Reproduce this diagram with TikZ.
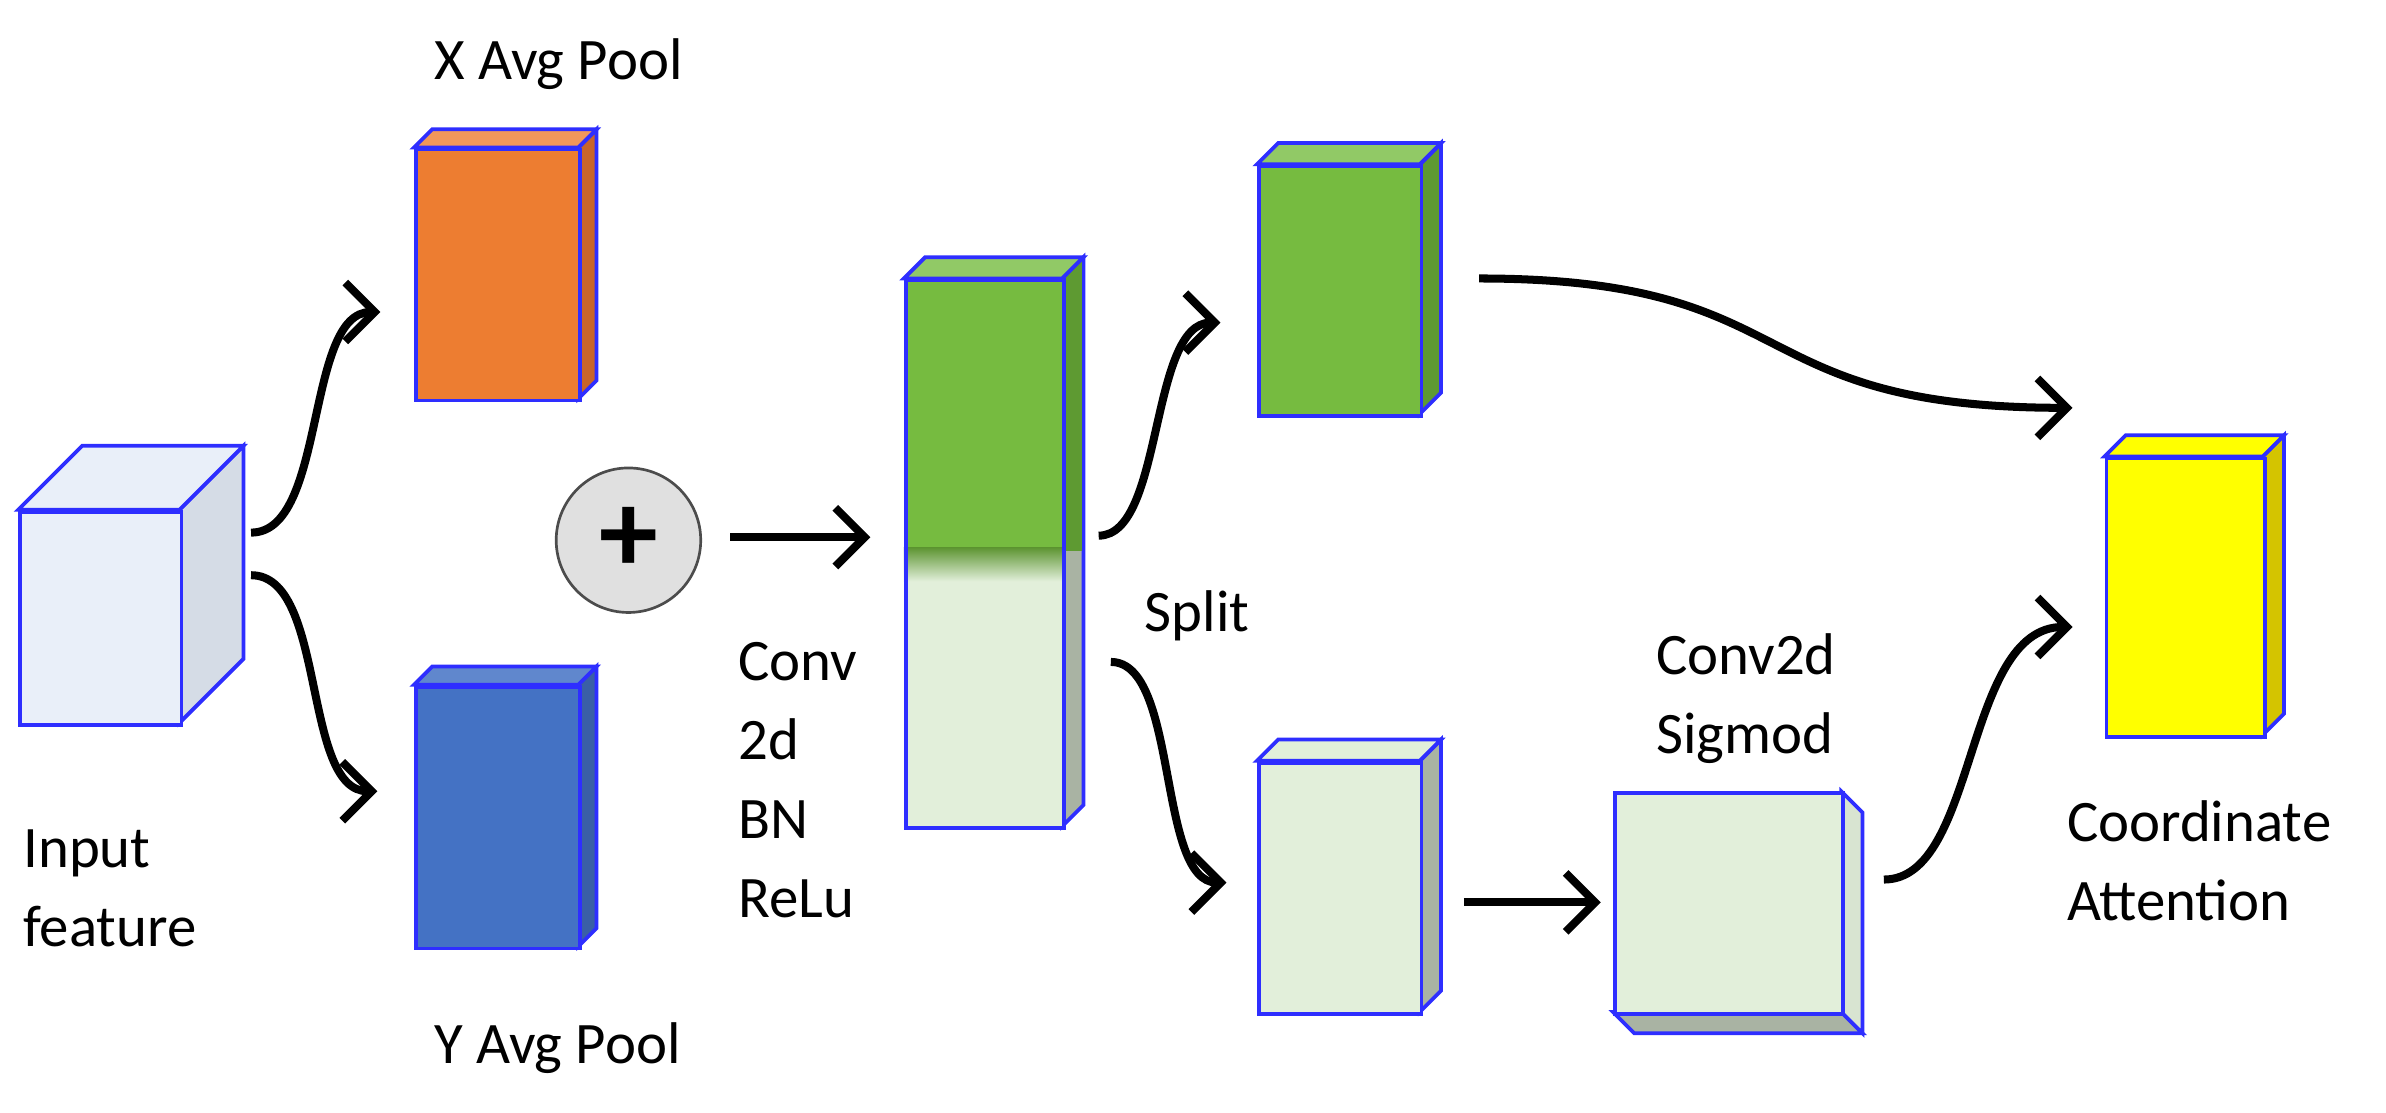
\documentclass[tikz,border=0pt]{standalone}
\usepackage{fontspec}
\setmainfont{Carlito}
\usetikzlibrary{arrows.meta}
\definecolor{edge}{HTML}{2E2EFF}
\definecolor{inF}{HTML}{E9EFF9}
\definecolor{inS}{HTML}{D5DCE6}
\definecolor{orF}{HTML}{ED7D31}
\definecolor{orS}{HTML}{C8652A}
\definecolor{blF}{HTML}{4472C4}
\definecolor{blS}{HTML}{3A5FA6}
\definecolor{grF}{HTML}{76BB40}
\definecolor{grS}{HTML}{5E9A32}
\definecolor{lgF}{HTML}{E2EFDA}
\definecolor{lgS}{HTML}{A9B3A3}
\definecolor{yeF}{HTML}{FFFF00}
\definecolor{yeS}{HTML}{D4C400}
\newcommand\mybox[9]{%
 \fill[#9,draw=edge,line width=1.4pt] (#4,#3)--(#4+#6,#3-#6)--(#4+#6,#5-#6)--(#4,#5)--cycle;
 \fill[#8,draw=edge,line width=1.4pt] (#2,#3)--(#2+#6,#3-#6)--(#4+#6,#3-#6)--(#4,#3)--cycle;
 \node[draw=edge,line width=1.4pt,fill=#7,minimum width={(#4-#2)*0.02cm},minimum height={(#5-#3)*0.02cm},inner sep=0pt,anchor=north west] (#1) at (#2,#3) {};}
\tikzset{arr/.style={line width=3pt,-{Straight Barb[length=11pt,width=22pt,line width=3pt]}},
 lbl/.style={align=left,anchor=north west,inner sep=0pt,font=\fontsize{22}{29.5}\selectfont}}
\begin{document}
\begin{tikzpicture}[x=0.02cm,y=-0.02cm]
\useasboundingbox (0,0) rectangle (1568,731);
\mybox{in}{12}{335}{118}{475}{42}{inF}{inF}{inS}
\mybox{xp}{272}{97}{380}{262}{12}{orF}{orF!80!white}{orS}
\mybox{yp}{272}{450}{380}{622}{12}{blF}{blF!85!white}{blS}
% tall bar
\fill[lgS,draw=edge,line width=1.4pt] (698,183)--(712,169)--(712,529)--(698,543)--cycle;
\fill[grS] (699,184)--(711,171)--(711,362)--(699,362)--cycle;
\fill[grF!80!white,draw=edge,line width=1.4pt] (594,183)--(608,169)--(712,169)--(698,183)--cycle;
\fill[lgF] (594,183) rectangle (698,543);
\fill[grF] (594,183) rectangle (698,360);
\shade[top color=grF!80!black,bottom color=lgF] (594,360) rectangle (698,382);
\node[draw=edge,line width=1.4pt,minimum width=2.08cm,minimum height=7.2cm,inner sep=0pt,anchor=north west] (bar) at (594,183) {};
\mybox{gt}{826}{108}{933}{272}{14}{grF}{grF!80!white}{grS}
\mybox{lb}{826}{500}{933}{665}{14}{lgF}{lgF}{lgS}
% small box (side and bottom visible)
\fill[lgS,draw=edge,line width=1.4pt] (1060,665)--(1074,679)--(1224,679)--(1210,665)--cycle;
\fill[lgF!90!gray,draw=edge,line width=1.4pt] (1210,520)--(1224,534)--(1224,679)--(1210,665)--cycle;
\node[draw=edge,line width=1.4pt,fill=lgF,minimum width=3cm,minimum height=2.9cm,inner sep=0pt,anchor=north west] (sb) at (1060,520) {};
\mybox{ca}{1383}{300}{1487}{483}{14}{yeF}{yeF}{yeS}
\node[circle,draw=black!70,fill=black!12,line width=1pt,minimum size=1.9cm] (plus) at (413,355) {\fontsize{44}{44}\selectfont\textbf{+}};
% arrows
\draw[arr] (165,350) .. controls (215,350) and (200,205) .. (250,205);
\draw[arr] (165,378) .. controls (215,378) and (198,520) .. (248,520);
\draw[arr] (480,353) -- (572,353);
\draw[arr] (722,352) .. controls (765,352) and (755,212) .. (802,212);
\draw[arr] (730,435) .. controls (775,435) and (760,580) .. (806,580);
\draw[arr] (972,183) .. controls (1190,183) and (1140,268) .. (1362,268);
\draw[arr] (962,593) -- (1052,593);
\draw[arr] (1238,578) .. controls (1300,578) and (1290,412) .. (1362,412);
% labels
\node[lbl] (t1) at (285,25) {X Avg Pool};
\node[lbl] (t2) at (285,672) {Y Avg Pool};
\node[lbl] (t3) at (15,545) {Input\\feature};
\node[lbl] (t4) at (485,422) {Conv\\2d\\BN\\ReLu};
\node[lbl] (t5) at (752,388) {Split};
\node[lbl] (t6) at (1088,416) {Conv2d\\Sigmod};
\node[lbl] (t7) at (1358,526) {Coordinate\\Attention};
\end{tikzpicture}
\end{document}
